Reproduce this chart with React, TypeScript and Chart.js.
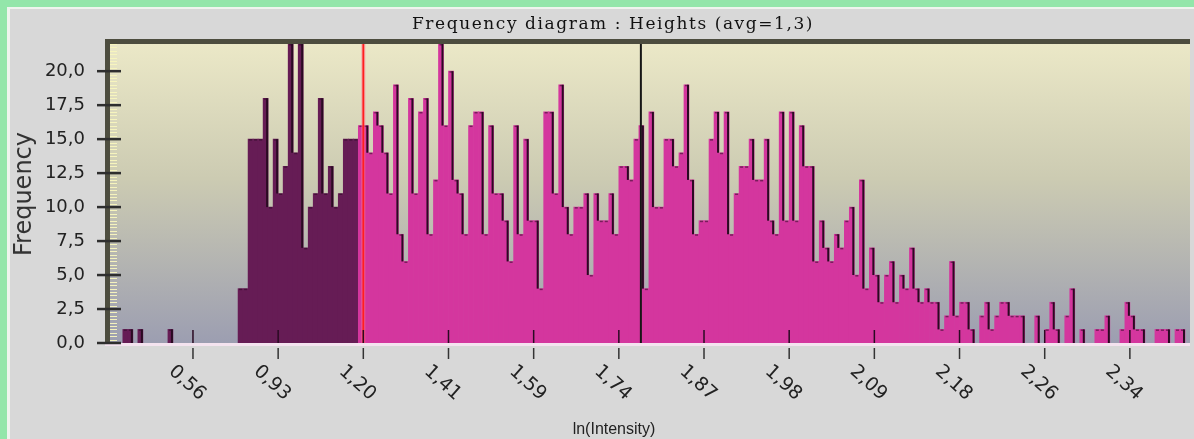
import React, { useEffect, useRef } from 'react';
import { Chart, registerables } from 'chart.js';

Chart.register(...registerables);

// ---- data (frequency per bin) ----
const counts: number[] = [
  0, 0, 0, 1, 1, 0, 1, 0, 0, 0, 0, 0, 1, 0, 0, 0, 0, 0, 0, 0, 0, 0, 0, 0, 0, 0,
  4, 4, 15, 15, 15, 18, 10, 15, 11, 13, 22, 14, 22, 7, 10, 11, 18, 11, 13, 10, 11, 15, 15, 15,
  16, 16, 14, 17, 16, 14, 11, 19, 8, 6, 18, 11, 17, 18, 8, 12, 22, 16, 20, 12,
  11, 8, 16, 17, 17, 8, 16, 11, 11, 9, 6, 16, 8, 15, 9, 9, 4, 17, 17, 11,
  19, 10, 8, 10, 10, 11, 5, 11, 9, 9, 11, 8, 13, 13, 12, 15, 16, 4, 17, 10,
  10, 15, 15, 13, 14, 19, 12, 8, 9, 9, 15, 17, 14, 17, 8, 11, 13, 13, 15, 12,
  12, 15, 9, 8, 17, 9, 17, 9, 16, 13, 13, 6, 9, 7, 6, 8, 7, 9, 10, 5,
  12, 4, 7, 5, 3, 5, 6, 3, 5, 4, 7, 4, 3, 4, 3, 3, 1, 2, 6, 2,
  3, 3, 1, 0, 2, 3, 1, 2, 3, 3, 2, 2, 2, 0, 0, 2, 0, 1, 3, 1,
  0, 2, 4, 0, 1, 0, 0, 1, 1, 2, 0, 0, 1, 3, 2, 1, 1, 0, 0, 1,
  1, 1, 0, 1, 1, 0,
];
const tickBins: number[] = [17, 34, 51, 68, 85, 102, 119, 136, 153, 170, 187, 204];
const tickLabels: string[] = ['0,56', '0,93', '1,20', '1,41', '1,59', '1,74', '1,87', '1,98', '2,09', '2,18', '2,26', '2,34'];
const selectedEndBin = 50; // bins before this are drawn dark
const redLineBin = 51;
const blackLineBin = 106.4;
const xMin = 0.44;
const xMax = 216;
const yMax = 22;
const titleText = 'Frequency diagram : Heights (avg=1,3)';
const xTitle = 'ln(Intensity)';
const yTitle = 'Frequency';

const GREEN = '#93e6aa';
const PANEL = '#d8d8d8';
const FRAME = '#4d4d3f';
const DARK = '#661c55';
const PINK = '#d4369e';
const OUTLINE = '#2a0a22';

export default function App() {
  const ref = useRef<HTMLCanvasElement>(null);

  useEffect(() => {
    const canvas = ref.current!;
    const data = counts
      .map((v, i) => ({ x: i + 0.5, y: v, i }))
      .filter((p) => p.y > 0);

    const decor = {
      id: 'decor',
      beforeDraw(chart: any) {
        const { ctx, width, height, chartArea: a } = chart;
        ctx.save();
        ctx.fillStyle = GREEN;
        ctx.fillRect(0, 0, width, height);
        ctx.fillStyle = '#eef4ee';
        ctx.fillRect(7, 7, width - 7, height - 7);
        ctx.fillStyle = PANEL;
        ctx.fillRect(10, 9, width - 10, height - 9);
        // plot background gradient
        const g = ctx.createLinearGradient(0, a.top, 0, a.bottom);
        g.addColorStop(0, '#ebe8c7');
        g.addColorStop(0.45, '#cccbb2');
        g.addColorStop(1, '#9c9eb1');
        ctx.fillStyle = g;
        ctx.fillRect(a.left, a.top, a.right - a.left, a.bottom - a.top);
        // frame
        ctx.fillStyle = FRAME;
        ctx.fillRect(a.left - 5, a.top - 5, a.right - a.left + 5, 5);
        ctx.fillRect(a.left - 5, a.top - 5, 5, a.bottom - a.top + 5);
        // title
        ctx.font = '17px "DejaVu Serif"';
        ctx.fillStyle = '#111';
        ctx.textBaseline = 'alphabetic';
        ctx.textAlign = 'left';
        const w0 = ctx.measureText(titleText).width;
        const target = 402;
        const ls = (target - w0) / titleText.length;
        (ctx as any).letterSpacing = ls + 'px';
        ctx.fillText(titleText, 613 - target / 2, 29);
        (ctx as any).letterSpacing = '0px';
        ctx.restore();
      },
      afterDatasetsDraw(chart: any) {
        const { ctx, chartArea: a, scales } = chart;
        const x = scales.x;
        const y = scales.y;
        ctx.save();
        ctx.beginPath();
        ctx.rect(a.left, a.top, a.right - a.left, a.bottom - a.top);
        ctx.clip();
        // step outline: light tops, dark falling edges
        for (let k = 0; k < counts.length; k++) {
          const v = counts[k];
          if (v <= 0) continue;
          const next = k + 1 < counts.length ? counts[k + 1] : 0;
          const xl = x.getPixelForValue(k);
          const xr = x.getPixelForValue(k + 1);
          const yt = y.getPixelForValue(v);
          ctx.strokeStyle = 'rgba(42,10,34,0.55)';
          ctx.lineWidth = 1.5;
          ctx.beginPath();
          ctx.moveTo(xl + 1, yt + 0.75);
          ctx.lineTo(xr - 1, yt + 0.75);
          ctx.stroke();
          if (next < v) {
            ctx.strokeStyle = OUTLINE;
            ctx.lineWidth = 2;
            ctx.beginPath();
            ctx.moveTo(xr - 1, yt);
            ctx.lineTo(xr - 1, y.getPixelForValue(next));
            ctx.stroke();
          }
        }
        // ruler marks on the left inner edge
        ctx.strokeStyle = 'rgba(248,246,190,0.95)';
        ctx.lineWidth = 1;
        for (let v = 0; v <= yMax; v += 0.25) {
          const py = Math.round(y.getPixelForValue(v)) + 0.5;
          ctx.beginPath();
          ctx.moveTo(a.left, py);
          ctx.lineTo(a.left + 7, py);
          ctx.stroke();
        }
        // marker lines
        const rx = x.getPixelForValue(redLineBin);
        ctx.strokeStyle = 'rgba(255,120,150,0.5)';
        ctx.lineWidth = 4;
        ctx.beginPath();
        ctx.moveTo(rx, a.top);
        ctx.lineTo(rx, a.bottom);
        ctx.stroke();
        ctx.strokeStyle = '#ff1f1f';
        ctx.lineWidth = 1.8;
        ctx.beginPath();
        ctx.moveTo(rx, a.top);
        ctx.lineTo(rx, a.bottom);
        ctx.stroke();
        ctx.strokeStyle = '#161616';
        ctx.lineWidth = 2;
        const bx = x.getPixelForValue(blackLineBin);
        ctx.beginPath();
        ctx.moveTo(bx, a.top);
        ctx.lineTo(bx, a.bottom);
        ctx.stroke();
        // inner x ticks
        ctx.strokeStyle = '#2a0a22';
        ctx.lineWidth = 1.5;
        for (const t of tickBins) {
          const px = x.getPixelForValue(t);
          ctx.beginPath();
          ctx.moveTo(px, a.bottom - 13);
          ctx.lineTo(px, a.bottom);
          ctx.stroke();
        }
        ctx.restore();

        ctx.save();
        // bottom light axis line
        ctx.fillStyle = '#f4e3ef';
        ctx.fillRect(a.left - 5, a.bottom, a.right - a.left + 5, 3);
        // y tick marks
        ctx.strokeStyle = '#2e2e2e';
        ctx.lineWidth = 2.5;
        for (let v = 0; v <= 20; v += 2.5) {
          const py = y.getPixelForValue(v);
          ctx.beginPath();
          ctx.moveTo(a.left - 13, py);
          ctx.lineTo(a.left + 11, py);
          ctx.stroke();
        }
        // outer x ticks
        ctx.strokeStyle = '#333';
        ctx.lineWidth = 1.5;
        for (const t of tickBins) {
          const px = x.getPixelForValue(t);
          ctx.beginPath();
          ctx.moveTo(px, a.bottom + 5);
          ctx.lineTo(px, a.bottom + 16);
          ctx.stroke();
        }
        ctx.restore();
      },
      afterDraw(chart: any) {
        const { ctx, chartArea: a, scales } = chart;
        const x = scales.x;
        ctx.save();
        ctx.fillStyle = '#222';
        ctx.font = '19px "DejaVu Sans"';
        ctx.textAlign = 'center';
        ctx.textBaseline = 'middle';
        tickBins.forEach((t, i) => {
          const px = x.getPixelForValue(t);
          ctx.save();
          ctx.translate(px - 6, a.bottom + 40);
          ctx.rotate((42 * Math.PI) / 180);
          ctx.fillText(tickLabels[i], 0, 0);
          ctx.restore();
        });
        ctx.font = '16px "Liberation Sans"';
        ctx.textBaseline = 'alphabetic';
        ctx.fillText(xTitle, 614, 434);
        ctx.save();
        ctx.translate(25, 194);
        ctx.rotate(-Math.PI / 2);
        ctx.font = '24px "DejaVu Sans"';
        ctx.fillStyle = '#333';
        ctx.textBaseline = 'middle';
        ctx.fillText(yTitle, 0, 0);
        ctx.restore();
        ctx.restore();
      },
    };

    const chart = new Chart(canvas, {
      type: 'bar',
      data: {
        datasets: [
          {
            data,
            backgroundColor: (c: any) => {
              const p = c.raw as any;
              return p && p.i < selectedEndBin ? DARK : PINK;
            },
            borderWidth: 0,
            barThickness: 5,
            grouped: false,
          } as any,
        ],
      },
      options: {
        animation: false,
        responsive: false,
        devicePixelRatio: 1,
        layout: { padding: { left: 8, top: 44, right: 4, bottom: 0 } },
        plugins: {
          legend: { display: false },
          tooltip: { enabled: false },
          title: { display: false },
        },
        scales: {
          x: {
            type: 'linear',
            min: xMin,
            max: xMax,
            offset: false,
            grid: { display: false },
            border: { display: false },
            ticks: { display: false },
            afterBuildTicks: (s: any) => {
              s.ticks = tickBins.map((v) => ({ value: v }));
            },
            afterFit: (s: any) => {
              s.height = 96;
            },
          },
          y: {
            min: 0,
            max: yMax,
            grid: { display: false },
            border: { display: false },
            ticks: {
              stepSize: 2.5,
              includeBounds: false,
              padding: 17,
              color: '#222',
              font: { family: 'DejaVu Sans', size: 18 },
              callback: (v: any) => Number(v).toFixed(1).replace('.', ','),
            },
            afterFit: (s: any) => {
              s.width = 102;
            },
          },
        },
      } as any,
      plugins: [decor],
    });
    return () => chart.destroy();
  }, []);

  return (
    <div style={{ position: 'fixed', left: 0, top: 0, width: 1194, height: 439 }}>
      <canvas ref={ref} width={1194} height={439} style={{ display: 'block' }} />
    </div>
  );
}
